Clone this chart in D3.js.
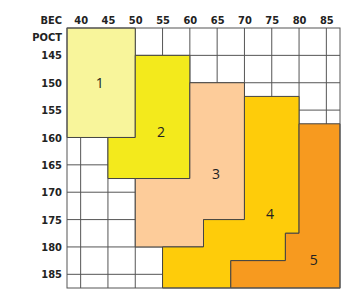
<!DOCTYPE html>
<html>
<head>
<meta charset="utf-8">
<script src="https://cdn.jsdelivr.net/npm/d3@7"></script>
<style>
  body { margin: 0; background: #fff; }
  svg { display: block; }
  .tick text, .axis-title { font-family: "Liberation Sans Narrow", "DejaVu Sans Condensed", sans-serif; font-size: 11px; font-weight: bold; fill: #222; }
  .size-label { font-family: "Open Sans", "DejaVu Sans", sans-serif; font-size: 14px; fill: #222; }
</style>
</head>
<body>
<div id="chart"></div>
<script>
// weight columns (ВЕС) and height rows (РОСТ)
const weights = [40, 45, 50, 55, 60, 65, 70, 75, 80, 85];
const heights = [145, 150, 155, 160, 165, 170, 175, 180, 185];
const sizes = ['1', '2', '3', '4', '5'];
const sizeColors = ['#f8f59b', '#f3ea1c', '#fdcc9a', '#fecc0a', '#f79a1f'];

// outline of each size zone as [weight, height] corners
const zone1 = [[37.5, 140], [50, 140], [50, 160], [37.5, 160]];
const zone2 = [[50, 145], [60, 145], [60, 167.5], [45, 167.5], [45, 160], [50, 160]];
const zone3 = [[60, 150], [70, 150], [70, 175], [62.5, 175], [62.5, 180], [50, 180], [50, 167.5], [60, 167.5]];
const zone4 = [[70, 152.5], [80, 152.5], [80, 177.5], [77.5, 177.5], [77.5, 182.5], [67.5, 182.5], [67.5, 187.5], [55, 187.5], [55, 180], [62.5, 180], [62.5, 175], [70, 175]];
const zone5 = [[80, 157.5], [87.5, 157.5], [87.5, 187.5], [67.5, 187.5], [67.5, 182.5], [77.5, 182.5], [77.5, 177.5], [80, 177.5]];
const zones = [zone1, zone2, zone3, zone4, zone5];
// where the size number sits
const labelSpots = [[43.5, 150], [54.7, 159], [64.8, 166.7], [74.7, 174], [82.7, 182.3]];

const width = 359, height = 300;
const svg = d3.select('#chart').append('svg')
    .attr('width', width)
    .attr('height', height);

const x = d3.scaleLinear().domain([37.5, 87.5]).range([67, 340]);
const y = d3.scaleLinear().domain([140, 187.5]).range([28, 288]);

// grid
const grid = svg.append('g').attr('stroke', '#555').attr('stroke-width', 1);
grid.selectAll('line.v')
    .data(weights)
    .enter()
    .append('line')
    .attr('class', 'v')
    .attr('x1', d => x(d)).attr('x2', d => x(d))
    .attr('y1', y(140)).attr('y2', y(187.5));
grid.selectAll('line.h')
    .data(heights)
    .enter()
    .append('line')
    .attr('class', 'h')
    .attr('x1', x(37.5)).attr('x2', x(87.5))
    .attr('y1', d => y(d)).attr('y2', d => y(d));

// size zones
const line = d3.line().x(d => x(d[0])).y(d => y(d[1])).curve(d3.curveLinearClosed);
svg.append('g')
    .selectAll('path')
    .data(zones)
    .enter()
    .append('path')
    .attr('d', d => line(d))
    .attr('fill', (d, i) => sizeColors[i])
    .attr('stroke', '#444')
    .attr('stroke-width', 1);

svg.append('g')
    .selectAll('text')
    .data(sizes)
    .enter()
    .append('text')
    .attr('class', 'size-label')
    .attr('x', (d, i) => x(labelSpots[i][0]))
    .attr('y', (d, i) => y(labelSpots[i][1]))
    .attr('text-anchor', 'middle')
    .attr('dy', '0.36em')
    .text(d => d);

// outer frame
svg.append('rect')
    .attr('x', x(37.5)).attr('y', y(140))
    .attr('width', x(87.5) - x(37.5))
    .attr('height', y(187.5) - y(140))
    .attr('fill', 'none')
    .attr('stroke', '#555');

// axes
const topAxis = svg.append('g')
    .attr('transform', `translate(0, ${y(140)})`)
    .call(d3.axisTop(x).tickValues(weights).tickSize(0).tickPadding(4));
topAxis.select('.domain').remove();

const leftAxis = svg.append('g')
    .attr('transform', `translate(${x(37.5)}, 0)`)
    .call(d3.axisLeft(y).tickValues(heights).tickSize(0).tickPadding(5));
leftAxis.select('.domain').remove();

svg.append('text')
    .attr('class', 'axis-title')
    .attr('x', 62).attr('y', 24)
    .attr('text-anchor', 'end')
    .text('ВЕС');
svg.append('text')
    .attr('class', 'axis-title')
    .attr('x', 62).attr('y', 41)
    .attr('text-anchor', 'end')
    .text('РОСТ');
</script>
</body>
</html>
